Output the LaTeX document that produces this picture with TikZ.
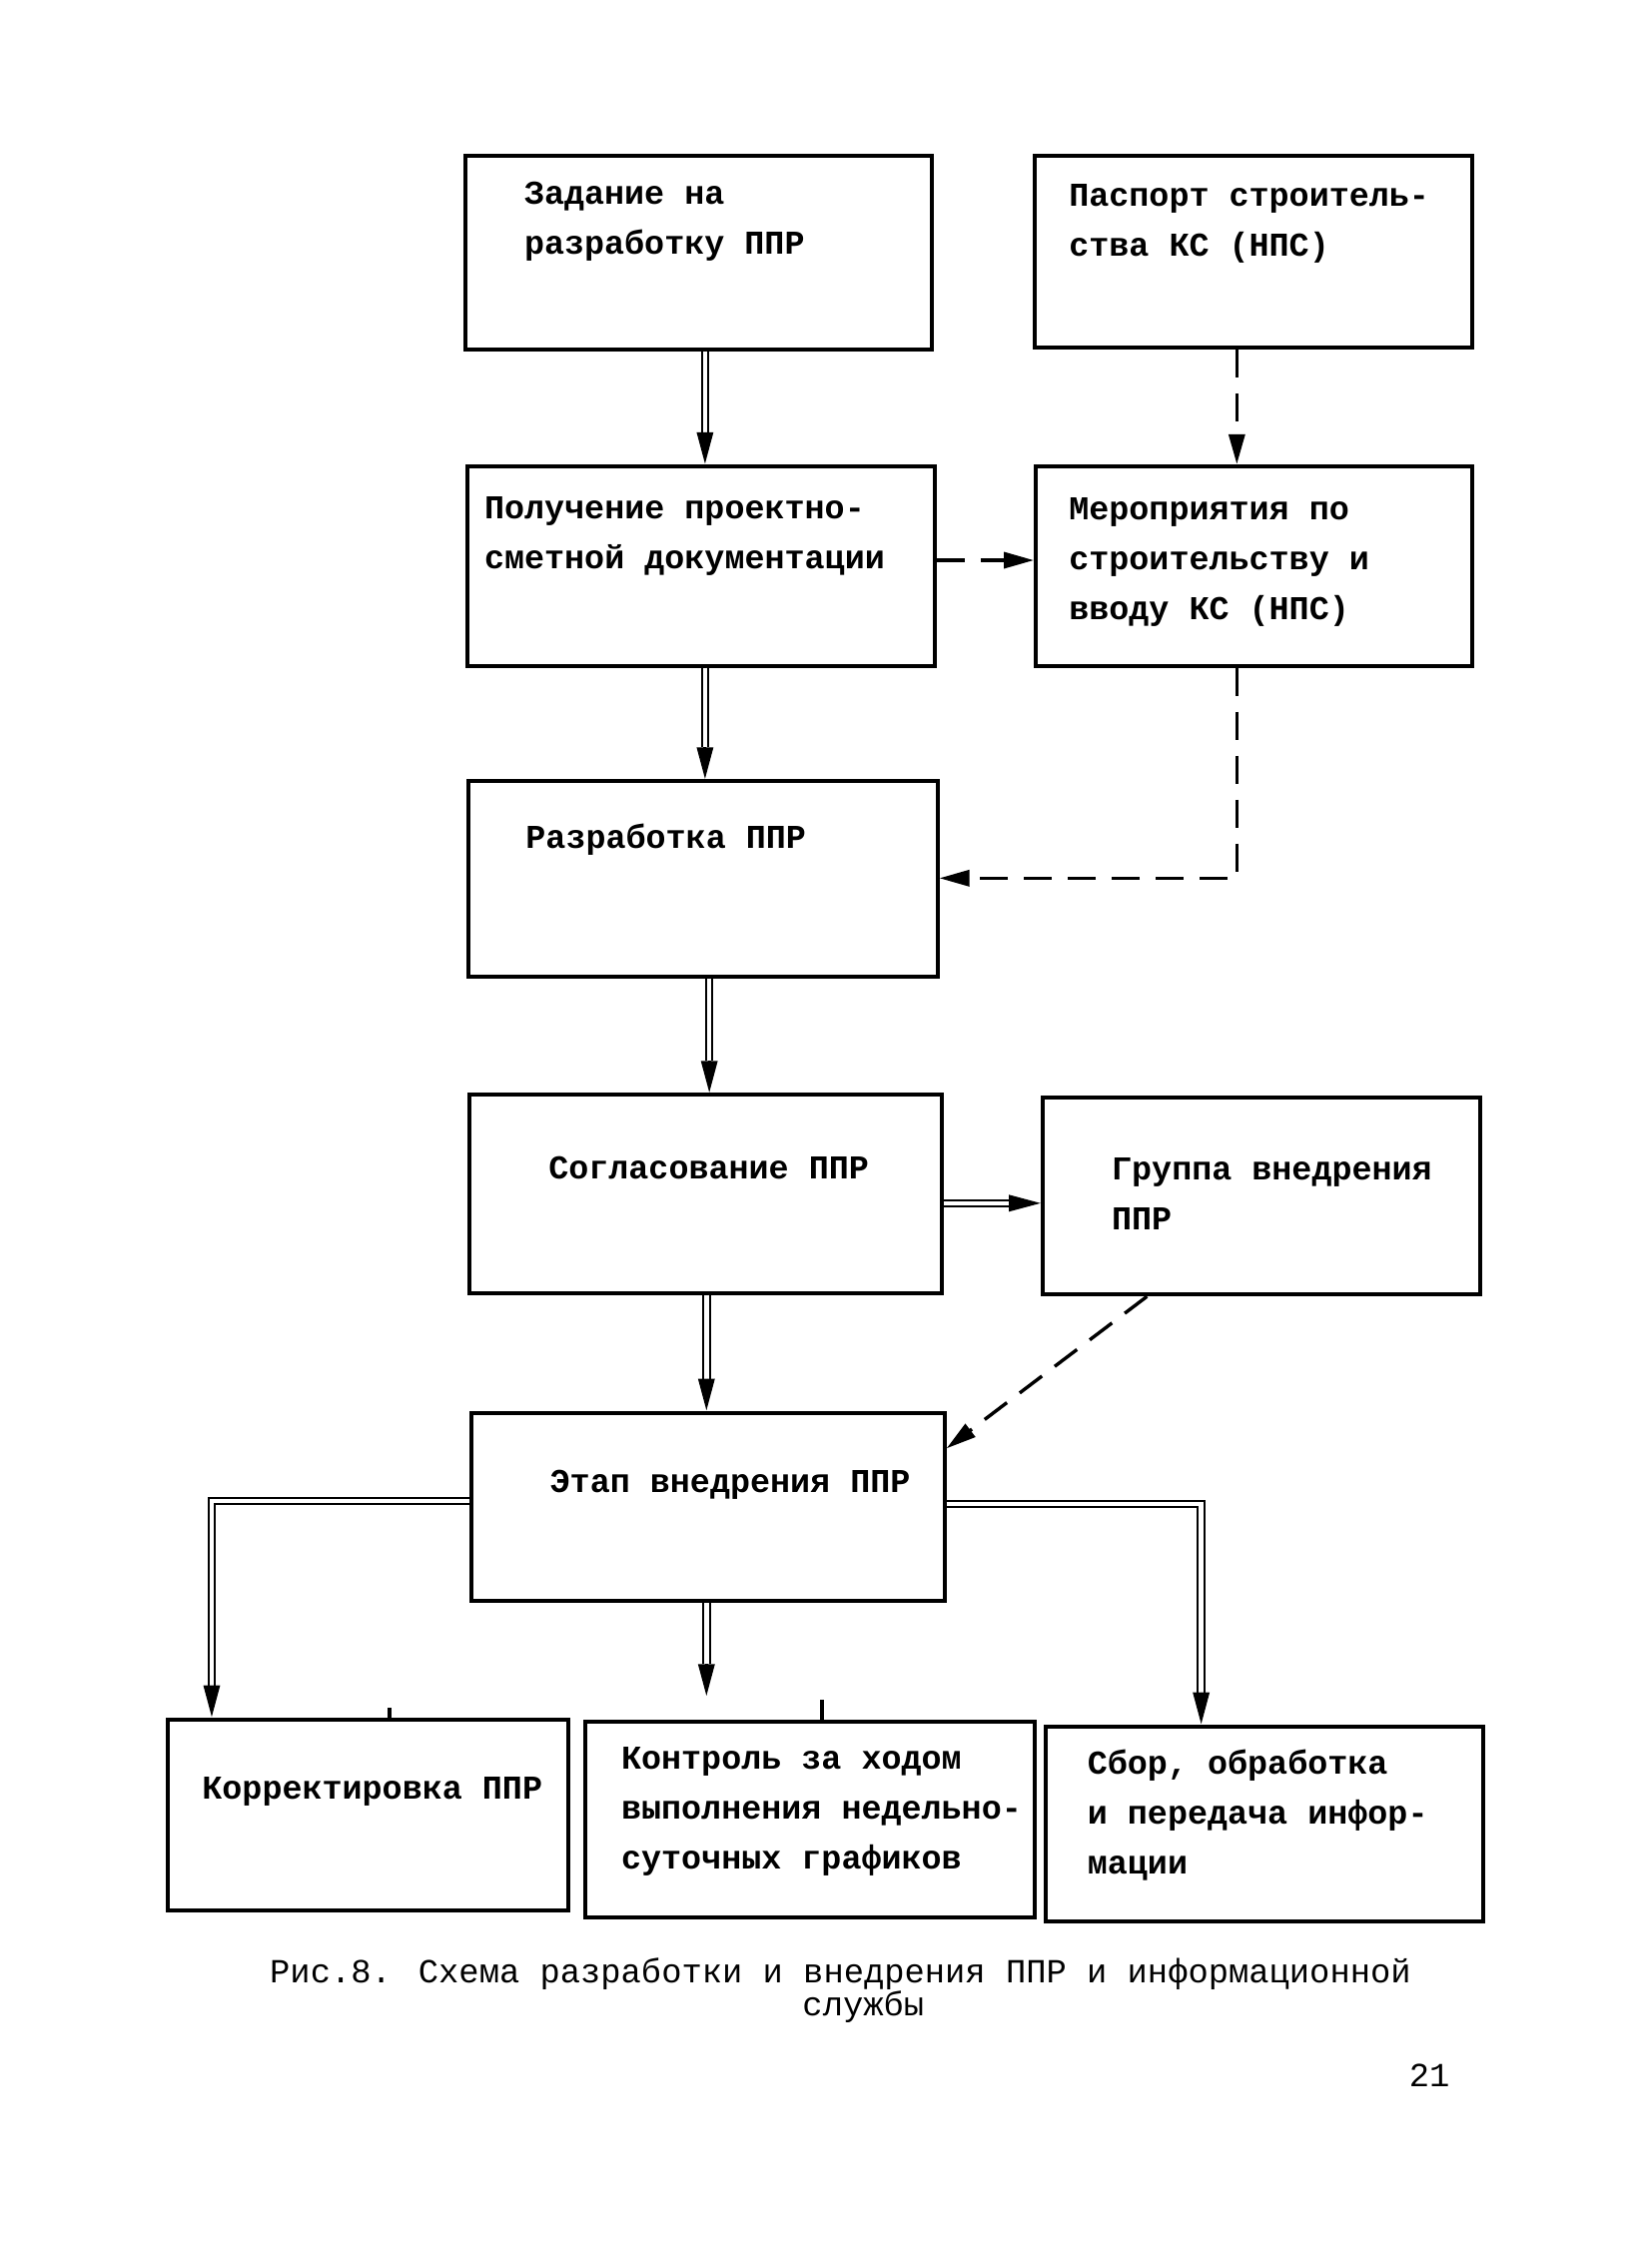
\documentclass[tikz,border=0pt]{standalone}
\usepackage{fontspec}
\newfontfamily\tw{Liberation Mono}
\usetikzlibrary{arrows.meta,calc,fit}
\newcommand\tipdown[1]{\draw[tipa] ($(#1)+(0,16pt)$) -- (#1);}
\newcommand\tipleft[1]{\draw[tipa] ($(#1)+(16pt,0)$) -- (#1);}
\newcommand\tipright[1]{\draw[tipa] ($(#1)+(-16pt,0)$) -- (#1);}
\begin{document}
\begin{tikzpicture}[x=0.71375pt,y=-0.71375pt,
  box/.style={draw, line width=2pt, inner sep=0pt},
  txt/.style={anchor=north west, align=left, inner sep=0pt, font=\tw\bfseries\fontsize{16.7pt}{25pt}\selectfont},
  captxt/.style={inner sep=0pt, font=\tw\fontsize{16.9pt}{20pt}\selectfont},
  dbl/.style={double, line width=1pt, double distance=2.2pt},
  dsh/.style={line width=1.7pt, dash pattern=on 14pt off 8pt},
  tipa/.style={line width=1.6pt, -{Triangle[length=16pt,width=8pt]}},
  dtip/.style={-{Triangle[length=15pt,width=8pt]}},
]
\fill[white] (0,0) rectangle (1158,1572);
\useasboundingbox (0,0) rectangle (1158,1572);
\begin{scope}[shift={(1.5,1)}]
% boxes
\node[box, fit={(325,108) (652,244)}] (b1) {};
\node[box, fit={(724,108) (1031,243)}] (b2) {};
\node[box, fit={(326,326) (654,466)}] (b3) {};
\node[box, fit={(725,326) (1031,466)}] (b4) {};
\node[box, fit={(327,547) (656,684)}] (b5) {};
\node[box, fit={(328,767) (659,906)}] (b6) {};
\node[box, fit={(730,769) (1037,907)}] (b7) {};
\node[box, fit={(329,990) (661,1122)}] (b8) {};
\node[box, fit={(116,1205) (397,1339)}] (b9) {};
\node[box, fit={(409,1207) (724,1344)}] (b10) {};
\node[box, fit={(732,1210) (1039,1347)}] (b11) {};

% texts
\node[txt] (t1) at (366,126) {Задание на\\разработку ППР};
\node[txt] (t2) at (748,128) {Паспорт строитель-\\ства КС (НПС)};
\node[txt] (t3) at (338,347) {Получение проектно-\\сметной документации};
\node[txt] (t4) at (748,348) {Мероприятия по\\строительству и\\вводу КС (НПС)};
\node[txt] (t5) at (367,577) {Разработка ППР};
\node[txt] (t6) at (383,810) {Согласование ППР};
\node[txt] (t7) at (778,811) {Группа внедрения\\ППР};
\node[txt] (t8) at (384,1030) {Этап внедрения ППР};
\node[txt] (t9) at (140,1245) {Корректировка ППР};
\node[txt] (t10) at (434,1224) {Контроль за ходом\\выполнения недельно-\\суточных графиков};
\node[txt] (t11) at (761,1226) {Сбор, обработка\\и передача инфор-\\мации};

\node[captxt] (c1) at (588,1384) {Рис.8. Схема разработки и внедрения ППР и информационной};
\node[captxt] (c2) at (604,1407) {службы};
\node[captxt] (pg) at (1001,1455) {21};

% helper coordinates
\coordinate (vA) at (493,0);
\coordinate (vA2) at (496,0);
\coordinate (vA3) at (494,0);
\coordinate (vB) at (866,0);
\coordinate (vC) at (147,0);
\coordinate (vE) at (841,0);
\coordinate (vF) at (803,0);
\coordinate (hA) at (0,392);
\coordinate (hB) at (0,615);
\coordinate (hC) at (0,1052);
\coordinate (hD) at (0,1054);
\coordinate (hE) at (0,843);
\coordinate (hF) at (0,1015);
\coordinate (k1) at (272,0);
\coordinate (k2) at (575,0);

% b1 -> b3
\draw[dbl, shorten >=16pt] (b1.south -| vA) -- (b3.north -| vA);
\tipdown{b3.north -| vA}
% b2 -> b4
\draw[dsh, dtip] (b2.south -| vB) -- (b4.north -| vB);
% b3 -> b4
\draw[dsh, dtip] (b3.east |- hA) -- (b4.west |- hA);
% b3 -> b5
\draw[dbl, shorten >=16pt] (b3.south -| vA) -- (b5.north -| vA);
\tipdown{b5.north -| vA}
% b4 -> b5
\draw[dsh, dtip] (b4.south -| vB) -- (vB |- hB) -- (b5.east |- hB);
% b5 -> b6
\draw[dbl, shorten >=16pt] (b5.south -| vA2) -- (b6.north -| vA2);
\tipdown{b6.north -| vA2}
% b6 -> b7
\draw[dbl, shorten >=16pt] (b6.east |- hE) -- (b7.west |- hE);
\tipright{b7.west |- hE}
% b6 -> b8
\draw[dbl, shorten >=16pt] (b6.south -| vA3) -- (b8.north -| vA3);
\tipdown{b8.north -| vA3}
% b7 -> b8
\draw[dsh, dtip] (b7.south -| vF) -- (b8.east |- hF);
% b8 -> b9
\draw[dbl, shorten >=16pt] (b8.west |- hC) -- (vC |- hC) -- (b9.north -| vC);
\tipdown{b9.north -| vC}
% b8 -> b10
\coordinate (e10) at ($(b10.north -| vA3)+(0,12pt)$);
\draw[dbl, shorten >=16pt] (b8.south -| vA3) -- (e10);
\tipdown{e10}
% b8 -> b11
\draw[dbl, shorten >=16pt] (b8.east |- hD) -- (vE |- hD) -- (b11.north -| vE);
\tipdown{b11.north -| vE}

% small marks on box tops
\draw[line width=2pt] (b9.north -| k1) -- ++(0,5pt);
\draw[line width=2pt] (b10.north -| k2) -- ++(0,10pt);
\end{scope}
\end{tikzpicture}
\end{document}
